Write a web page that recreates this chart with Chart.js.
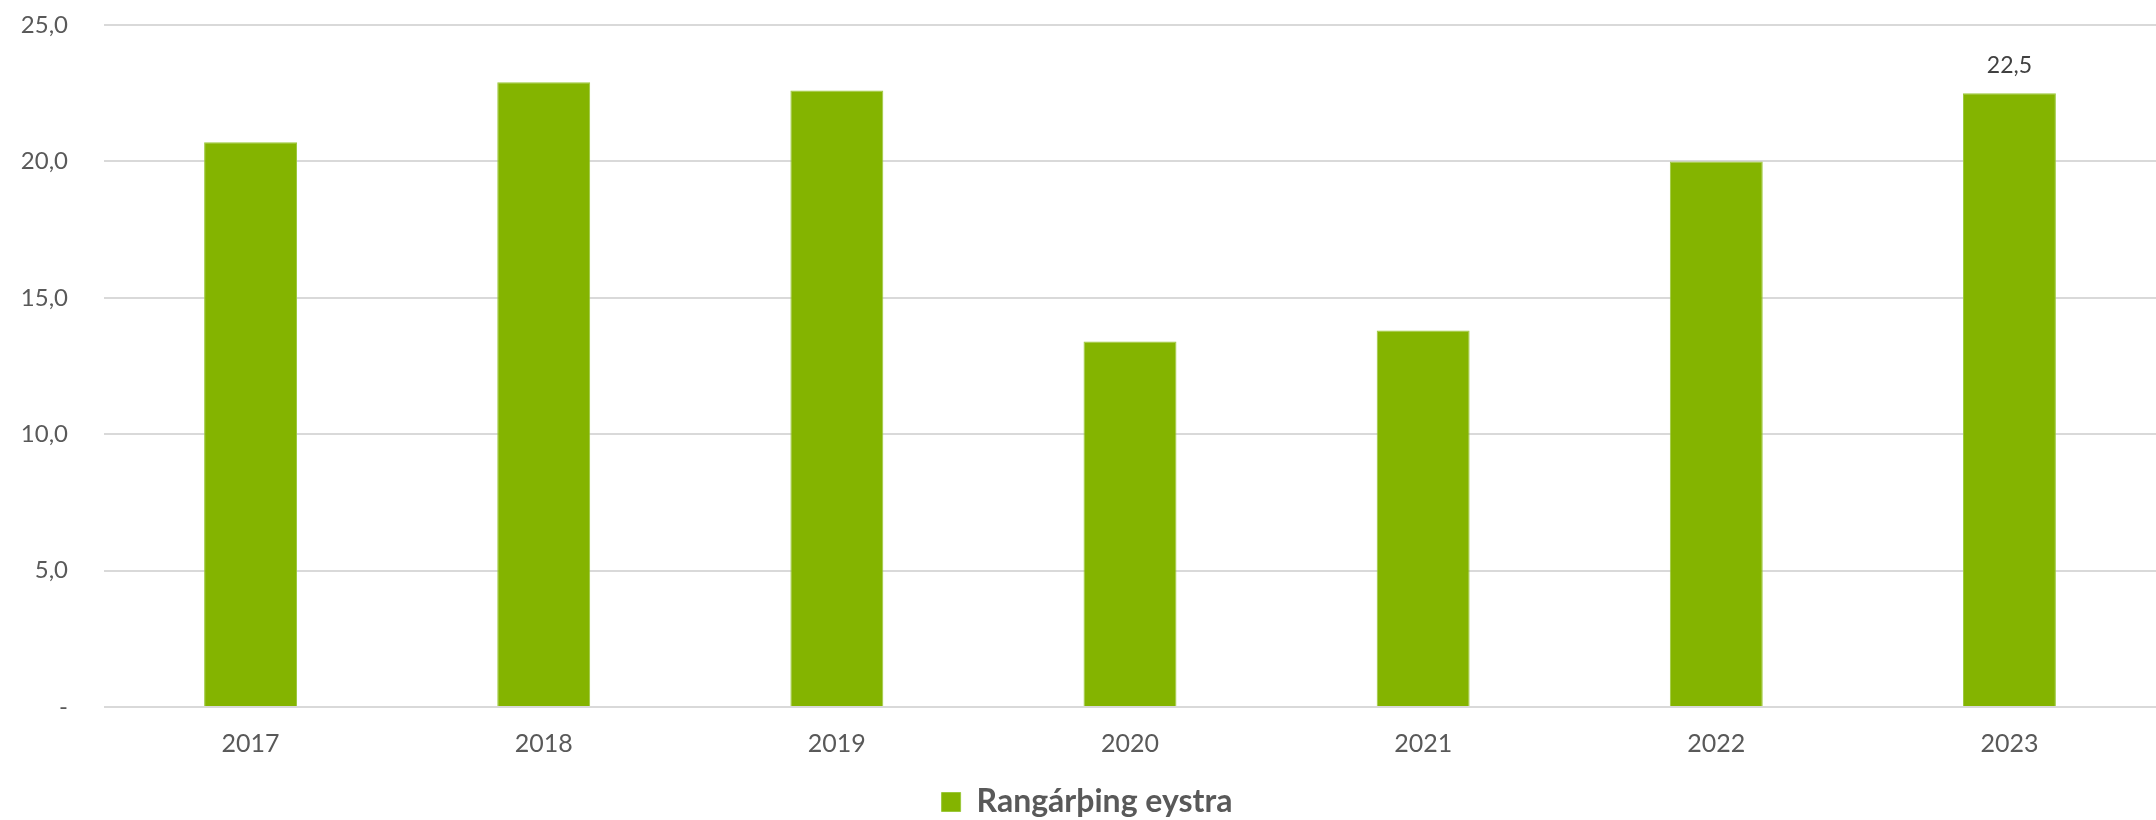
<!DOCTYPE html>
<html>
<head>
<meta charset="utf-8">
<script src="https://cdn.jsdelivr.net/npm/chart.js@4"></script>
<style>
    html, body { margin: 0; padding: 0; background: #fff; }
    #wrap { width: 2156px; height: 820px; }
</style>
</head>
<body>
<div id="wrap"><canvas id="chart"></canvas></div>
<script>
// years on x axis
const years = ['2017', '2018', '2019', '2020', '2021', '2022', '2023'];
const values = [20.7, 22.9, 22.6, 13.4, 13.8, 20.0, 22.5];
const seriesName = 'Rangárþing eystra';
const yTicks = [0, 5, 10, 15, 20, 25];
// only the last bar carries a value label
const labelledIndex = [6];

const fmt = (v) => v === 0 ? '-' : v.toFixed(1).replace('.', ',');

// draws the value label above the chosen bars
const valueLabels = {
    id: 'valueLabels',
    afterDatasetsDraw(chart) {
        const ctx = chart.ctx;
        const meta = chart.getDatasetMeta(0);
        ctx.save();
        ctx.font = '23px Lato';
        ctx.fillStyle = '#404040';
        ctx.textAlign = 'center';
        ctx.textBaseline = 'middle';
        for (const i of labelledIndex) {
            const bar = meta.data[i];
            ctx.fillText(fmt(values[i]), bar.x, bar.y - 28);
        }
        ctx.restore();
    }
};

const ctx = document.getElementById('chart').getContext('2d');

new Chart(ctx, {
    type: 'bar',
    data: {
        labels: years,
        datasets: [{
            label: seriesName,
            data: values,
            backgroundColor: '#84b400',
            borderColor: '#9bc83a',
            borderWidth: 1,
            categoryPercentage: 1,
            barPercentage: 0.317
        }]
    },
    options: {
        responsive: true,
        maintainAspectRatio: false,
        animation: false,
        layout: {
            padding: { top: 25, right: 0, left: 18, bottom: -8 }
        },
        scales: {
            x: {
                grid: { display: false, drawTicks: false },
                border: { display: false },
                afterFit(axis) {
                    axis.height = 79;
                },
                ticks: {
                    color: '#595959',
                    font: { family: 'Lato', size: 25 },
                    padding: 22
                }
            },
            y: {
                min: 0,
                max: 25,
                afterBuildTicks(axis) {
                    axis.ticks = yTicks.map(v => ({ value: v }));
                },
                afterFit(axis) {
                    axis.width = 86;
                    axis.paddingTop = 0;
                    axis.paddingBottom = 0;
                },
                grid: { color: '#d9d9d9', lineWidth: 2, drawTicks: false },
                border: { display: false },
                ticks: {
                    color: '#595959',
                    font: { family: 'Lato', size: 24 },
                    padding: 36,
                    callback: (v) => fmt(v)
                }
            }
        },
        plugins: {
            legend: {
                position: 'bottom',
                labels: {
                    color: '#595959',
                    font: { family: 'Lato', size: 32, weight: 'bold' },
                    boxWidth: 19,
                    boxHeight: 19,
                    padding: 0
                }
            },
            tooltip: { enabled: false }
        }
    },
    plugins: [valueLabels]
});
</script>
</body>
</html>
